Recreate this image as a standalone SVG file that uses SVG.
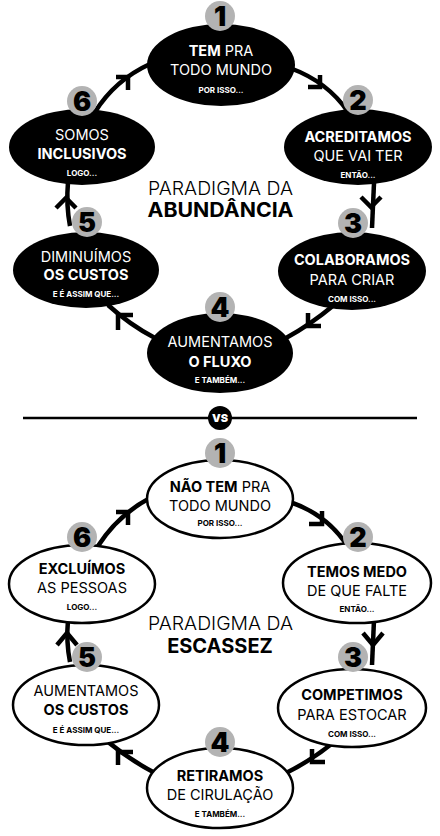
<svg xmlns="http://www.w3.org/2000/svg" width="440" height="836" viewBox="0 0 440 836">
<style>
text{font-family:Inter,"Liberation Sans",sans-serif;text-anchor:middle}
.t{font-size:14.5px;font-weight:400}
.b{font-weight:700}
.s{font-size:8px;font-weight:700}
.w{fill:#fff}
.k{fill:#000}
.num{font-size:27px;font-weight:900;fill:#000}
.badge{fill:#b3b3b3}
.dark{fill:#000}
.light{fill:#fff;stroke:#000;stroke-width:2.5}
.con{fill:none;stroke:#000;stroke-width:4.5}
.title{font-size:18.5px;font-weight:300;fill:#000}
.title2{font-size:20px;font-weight:700;fill:#000}
</style>
<g id="connectors">
<path class="con" d="M95 112 Q115 80 150 64"/><path class="con" d="M116 77 H128 V90"/>
<path class="con" d="M290 68 Q328 82 348 112"/><path class="con" d="M308 87 H320 V75"/>
<path class="con" d="M374 183 L372 228"/><path class="con" d="M361 197 L371 207 L381 197"/>
<path class="con" d="M334 305 Q310 325 286 338"/><path class="con" d="M308 313 V326 H321"/>
<path class="con" d="M155 338 Q130 325 108 305"/><path class="con" d="M133 315 H118 V330"/>
<path class="con" d="M70 226 Q66 205 68 182"/><path class="con" d="M56 208 L66 198 L76 208"/>
<path class="con" d="M98 546 Q118 515 150 498"/><path class="con" d="M116 512 H128 V525"/>
<path class="con" d="M290 502 Q328 515 348 547"/><path class="con" d="M309 524 H322 V511"/>
<path class="con" d="M374 620 L372 665"/><path class="con" d="M363 633 L373 645 L383 633"/>
<path class="con" d="M334 742 Q312 760 286 773"/><path class="con" d="M312 749 V762 H325"/>
<path class="con" d="M155 773 Q130 760 108 742"/><path class="con" d="M133 752 H118 V765"/>
<path class="con" d="M70 662 Q66 642 68 620"/><path class="con" d="M57 645 L67 633 L77 645"/>
</g>
<g id="divider">
<line x1="23" y1="418" x2="417" y2="418" stroke="#000" stroke-width="2.5"/>
<circle cx="220" cy="418" r="12" fill="#000"/>
<text x="220" y="422" class="w b" style="font-size:11px;font-weight:900">VS</text>
</g>
<g id="title-top">
<text x="220.5" y="195" class="title" textLength="145" lengthAdjust="spacingAndGlyphs">PARADIGMA DA</text>
<text x="220.5" y="217" class="title2" textLength="146" lengthAdjust="spacingAndGlyphs">ABUNDÂNCIA</text>
</g>
<g id="a1">
<ellipse class="dark" cx="221" cy="65" rx="74" ry="41"/>
<circle class="badge" cx="220" cy="16" r="15"/><text class="num" x="220" y="26">1</text>
<text class="t w" x="221" y="56"><tspan class="b">TEM</tspan> PRA</text>
<text class="t w" x="221" y="75">TODO MUNDO</text>
<text class="s w" x="221" y="93">POR ISSO...</text>
</g>
<g id="a2">
<ellipse class="dark" cx="358" cy="147" rx="74" ry="38"/>
<circle class="badge" cx="358" cy="100" r="15"/><text class="num" x="358" y="110">2</text>
<text class="t w b" x="358" y="142">ACREDITAMOS</text>
<text class="t w" x="358" y="161">QUE VAI TER</text>
<text class="s w" x="358" y="178">ENTÃO...</text>
</g>
<g id="a3">
<ellipse class="dark" cx="352" cy="271" rx="74" ry="39"/>
<circle class="badge" cx="353" cy="223" r="15"/><text class="num" x="353" y="233">3</text>
<text class="t w b" x="352" y="265">COLABORAMOS</text>
<text class="t w" x="352" y="285">PARA CRIAR</text>
<text class="s w" x="352" y="302">COM ISSO...</text>
</g>
<g id="a4">
<ellipse class="dark" cx="220" cy="353" rx="73" ry="40"/>
<circle class="badge" cx="220" cy="307" r="15"/><text class="num" x="220" y="317">4</text>
<text class="t w" x="220" y="347">AUMENTAMOS</text>
<text class="t w b" x="220" y="367">O FLUXO</text>
<text class="s w" x="220" y="383">E TAMBÉM...</text>
</g>
<g id="a5">
<ellipse class="dark" cx="86" cy="270" rx="73" ry="38"/>
<circle class="badge" cx="87" cy="222" r="15"/><text class="num" x="87" y="232">5</text>
<text class="t w" x="86" y="262">DIMINUÍMOS</text>
<text class="t w b" x="86" y="280">OS CUSTOS</text>
<text class="s w" x="86" y="297">E É ASSIM QUE...</text>
</g>
<g id="a6">
<ellipse class="dark" cx="82" cy="147" rx="73" ry="38"/>
<circle class="badge" cx="82" cy="101" r="15"/><text class="num" x="82" y="111">6</text>
<text class="t w" x="82" y="140">SOMOS</text>
<text class="t w b" x="82" y="159">INCLUSIVOS</text>
<text class="s w" x="82" y="176">LOGO...</text>
</g>
<g id="title-bottom">
<text x="220.5" y="630" class="title" textLength="145" lengthAdjust="spacingAndGlyphs">PARADIGMA DA</text>
<text x="220" y="653" class="title2">ESCASSEZ</text>
</g>
<g id="e1">
<ellipse class="light" cx="220" cy="499" rx="73" ry="39"/>
<circle class="badge" cx="220" cy="453" r="15"/><text class="num" x="220" y="463">1</text>
<text class="t k" x="220" y="492"><tspan class="b">NÃO TEM</tspan> PRA</text>
<text class="t k" x="220" y="511">TODO MUNDO</text>
<text class="s k" x="220" y="526">POR ISSO...</text>
</g>
<g id="e2">
<ellipse class="light" cx="357" cy="583" rx="74" ry="40"/>
<circle class="badge" cx="358" cy="537" r="15"/><text class="num" x="358" y="547">2</text>
<text class="t k b" x="357" y="577">TEMOS MEDO</text>
<text class="t k" x="357" y="596">DE QUE FALTE</text>
<text class="s k" x="357" y="612">ENTÃO...</text>
</g>
<g id="e3">
<ellipse class="light" cx="352" cy="708" rx="74" ry="39"/>
<circle class="badge" cx="353" cy="657" r="15"/><text class="num" x="353" y="667">3</text>
<text class="t k b" x="352" y="700">COMPETIMOS</text>
<text class="t k" x="352" y="720">PARA ESTOCAR</text>
<text class="s k" x="352" y="737">COM ISSO...</text>
</g>
<g id="e4">
<ellipse class="light" cx="220" cy="788" rx="73" ry="40"/>
<circle class="badge" cx="220" cy="742" r="15"/><text class="num" x="220" y="752">4</text>
<text class="t k b" x="220" y="781">RETIRAMOS</text>
<text class="t k" x="220" y="800">DE CIRULAÇÃO</text>
<text class="s k" x="220" y="817">E TAMBÉM...</text>
</g>
<g id="e5">
<ellipse class="light" cx="86" cy="705" rx="73" ry="40"/>
<circle class="badge" cx="87" cy="657" r="15"/><text class="num" x="87" y="667">5</text>
<text class="t k" x="86" y="696">AUMENTAMOS</text>
<text class="t k b" x="86" y="715">OS CUSTOS</text>
<text class="s k" x="86" y="733">E É ASSIM QUE...</text>
</g>
<g id="e6">
<ellipse class="light" cx="82" cy="584" rx="73" ry="39"/>
<circle class="badge" cx="82" cy="537" r="15"/><text class="num" x="82" y="547">6</text>
<text class="t k b" x="82" y="574">EXCLUÍMOS</text>
<text class="t k" x="82" y="593">AS PESSOAS</text>
<text class="s k" x="82" y="610">LOGO...</text>
</g>
</svg>
